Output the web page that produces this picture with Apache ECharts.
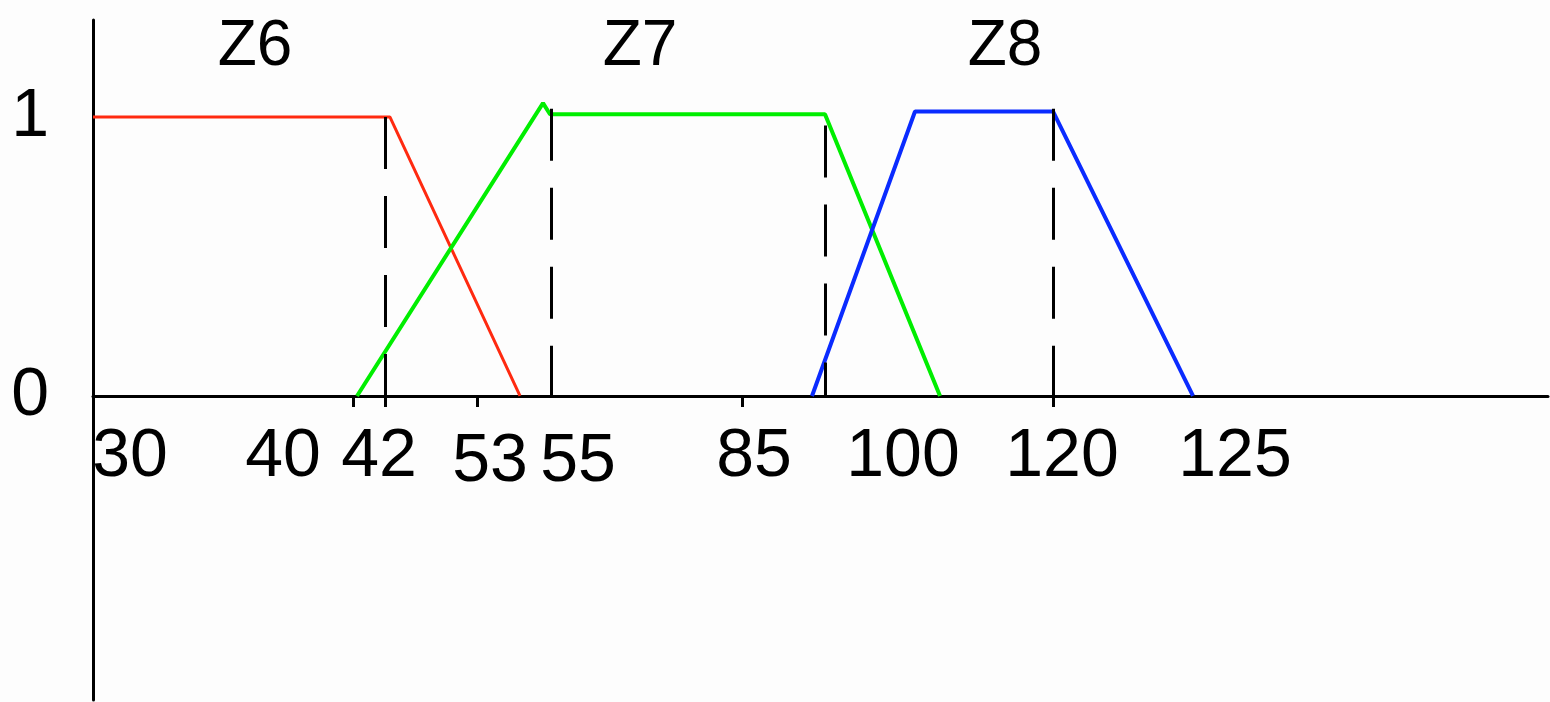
<!DOCTYPE html>
<html>
<head>
<meta charset="utf-8">
<script src="https://cdn.jsdelivr.net/npm/echarts@6/dist/echarts.min.js"></script>
<style>
html,body{margin:0;padding:0;background:#fdfdfd;}
#c{width:1550px;height:702px;}
</style>
</head>
<body>
<div id="c"></div>
<script>
// Schematic x-axis: positions in drawing units (label values are not linear in the source)
var z6Red   = [[0, 1.0], [29.7, 1.0], [42.7, 0]];
var z7Green = [[26.4, 0], [45.0, 1.05], [45.7, 1.01], [73.2, 1.01], [84.7, 0]];
var z8Blue  = [[71.9, 0], [82.2, 1.02], [96.0, 1.02], [110.0, 0]];

var setNames = ['Z6', 'Z7', 'Z8'];
var setNameX = [16.2, 54.7, 91.2];
var setNameY = 1.25;

var xTickLabels = ['30', '40', '42', '53', '55', '85', '100', '120', '125'];
var xLabelPos   = [3.7, 19.0, 28.6, 39.7, 48.5, 66.1, 81.0, 96.9, 114.2];
var xLabelLow   = ['53', '55'];
var xTickPos    = [26.0, 29.2, 38.4, 64.9, 96.0];

var yTickLabels = ['0', '1'];
var yTickPos    = [0, 1];

var dashX      = [29.2, 45.8, 73.2, 96.0];
var dashTop    = [1.0, 1.03, 0.97, 1.03];
var dashBottom = [-0.04, 0, 0, -0.06];

var FONT = "'Liberation Sans',Arial,sans-serif";
var FS = 68;

var chart = echarts.init(document.getElementById('c'), null, {renderer: 'canvas'});

var dashData = dashX.map(function (x, i) {
  return [{coord: [x, dashTop[i]]}, {coord: [x, dashBottom[i]]}];
});

var option = {
  backgroundColor: '#fdfdfd',
  animation: false,
  grid: {left: 93, right: 2, top: 20, bottom: 2, containLabel: false, outerBoundsMode: 'none'},
  xAxis: {
    type: 'value',
    position: 'bottom',
    offset: -304,
    min: 0, max: 145.5,
    splitLine: {show: false},
    axisLine: {show: true, onZero: false, lineStyle: {color: '#000', width: 3}},
    axisTick: {show: true, customValues: xTickPos, length: 11, lineStyle: {color: '#000', width: 3}},
    axisLabel: {
      show: true,
      customValues: xLabelPos,
      hideOverlap: false,
      margin: 27,
      color: '#000',
      fontFamily: FONT,
      fontSize: FS,
      formatter: function (v) {
        var idx = -1;
        for (var i = 0; i < xLabelPos.length; i++) {
          if (Math.abs(xLabelPos[i] - v) < 1e-6) { idx = i; }
        }
        if (idx < 0) return '';
        var t = xTickLabels[idx];
        return xLabelLow.indexOf(t) >= 0 ? '{low|' + t + '}' : '{n|' + t + '}';
      },
      rich: {
        n: {fontFamily: FONT, fontSize: FS, color: '#000', lineHeight: FS},
        low: {fontFamily: FONT, fontSize: FS, color: '#000', lineHeight: FS, padding: [10, 0, 0, 0]}
      }
    }
  },
  yAxis: {
    type: 'value',
    min: -1.09, max: 1.348,
    splitLine: {show: false},
    axisLine: {show: true, onZero: false, lineStyle: {color: '#000', width: 3}},
    axisTick: {show: false},
    axisLabel: {
      show: true,
      customValues: yTickPos,
      margin: 44,
      color: '#000',
      fontFamily: FONT,
      fontSize: FS,
      formatter: function (v) {
        var i = yTickPos.indexOf(v);
        return i >= 0 ? yTickLabels[i] : '';
      }
    }
  },
  series: [
    {
      name: 'Z6', type: 'line', data: z6Red, symbol: 'none',
      lineStyle: {color: '#ff2a10', width: 3}
    },
    {
      name: 'Z7', type: 'line', data: z7Green, symbol: 'none',
      lineStyle: {color: '#00ee00', width: 4}
    },
    {
      name: 'Z8', type: 'line', data: z8Blue, symbol: 'none',
      lineStyle: {color: '#0a2bff', width: 4}
    },
    {
      name: 'guides', type: 'line', data: [], symbol: 'none',
      markLine: {
        silent: true,
        symbol: ['none', 'none'],
        label: {show: false},
        lineStyle: {color: '#000', width: 3, type: [52, 27], opacity: 1},
        data: dashData
      }
    },
    {
      name: 'names', type: 'scatter', symbolSize: 0,
      itemStyle: {opacity: 1},
      data: setNames.map(function (n, i) { return {value: [setNameX[i], setNameY], name: n}; }),
      label: {
        show: true, position: 'inside', formatter: '{b}', opacity: 1,
        color: '#000', fontFamily: FONT, fontSize: 64
      }
    }
  ]
};
chart.setOption(option);
</script>
</body>
</html>
